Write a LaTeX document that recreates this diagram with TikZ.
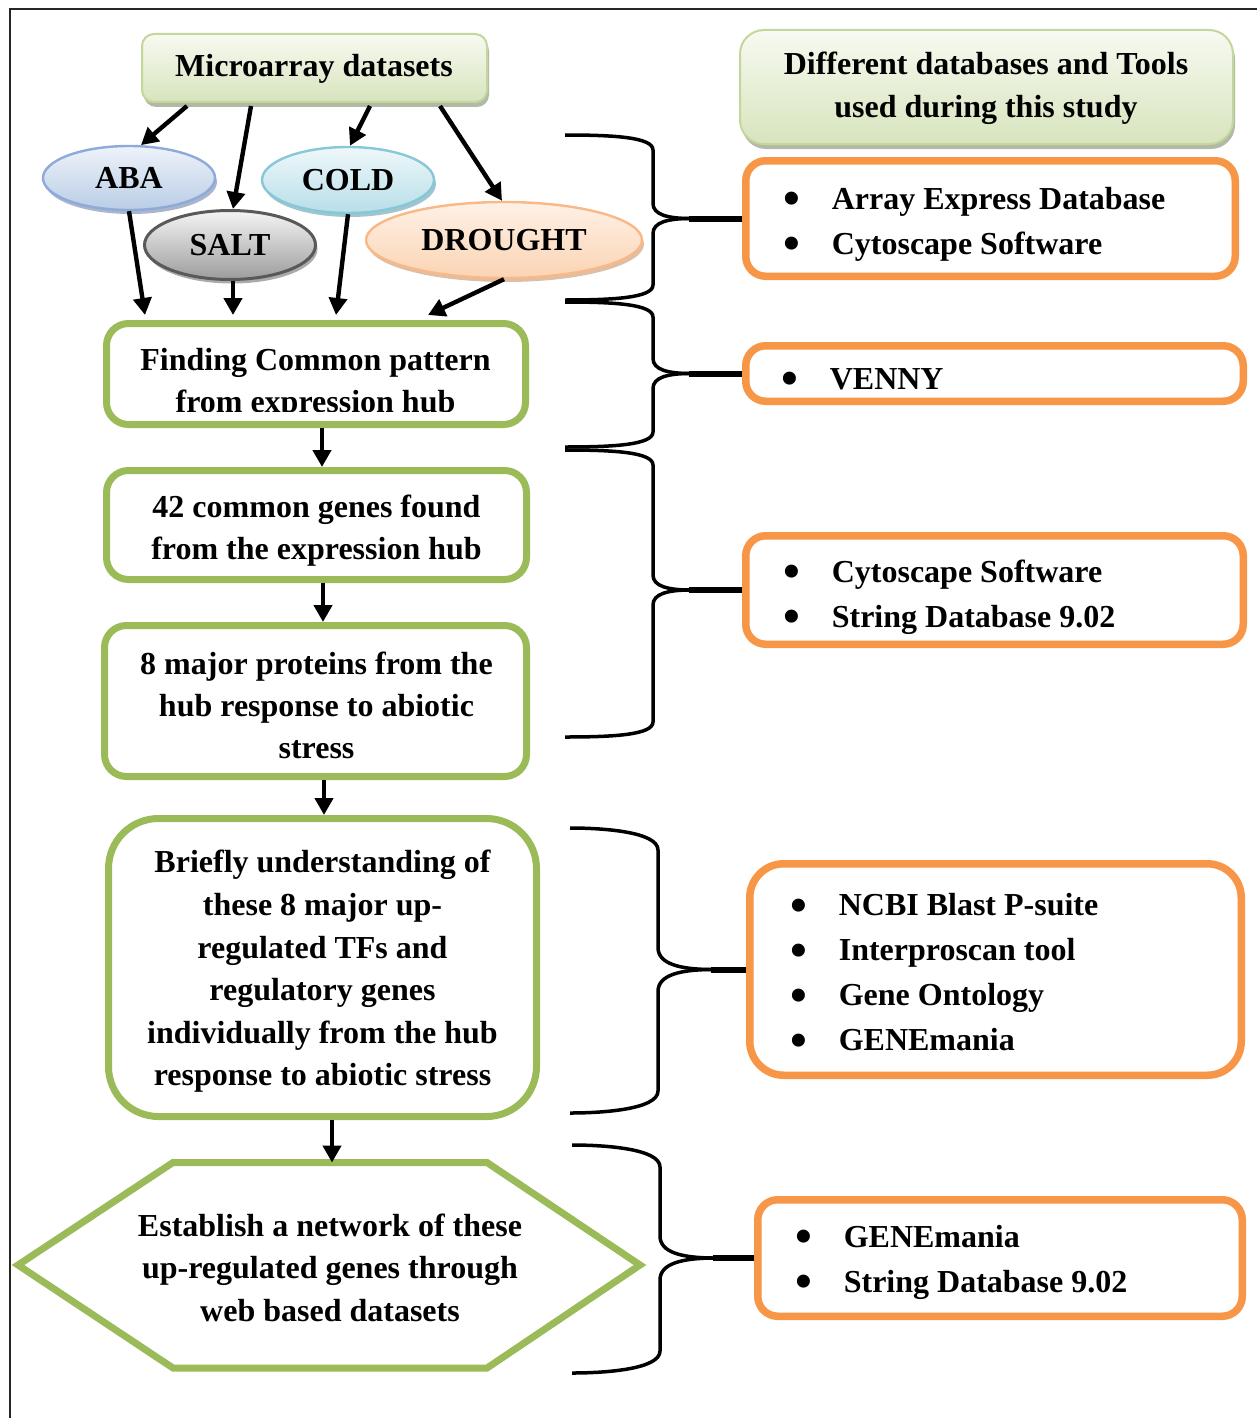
\documentclass[tikz,border=0pt]{standalone}
\usepackage{fontspec}
\setmainfont{Liberation Serif}
\usetikzlibrary{arrows.meta,shapes.geometric,shadows,calc}
\definecolor{grn}{HTML}{9BBB59}
\definecolor{org}{HTML}{F79646}
\definecolor{hdtop}{HTML}{F7FAF1}
\definecolor{hdbot}{HTML}{D7E4BD}
\definecolor{hdline}{HTML}{C3D69B}
\definecolor{hdsh}{HTML}{B4B9A6}
\definecolor{abatop}{HTML}{EEF3FA}
\definecolor{ababot}{HTML}{B9CDE5}
\definecolor{abaline}{HTML}{8EAADB}
\definecolor{abash}{HTML}{A9B6C9}
\definecolor{salttop}{HTML}{F5F5F5}
\definecolor{saltbot}{HTML}{9C9C9C}
\definecolor{saltline}{HTML}{595959}
\definecolor{saltsh}{HTML}{ABABAB}
\definecolor{coldtop}{HTML}{EFF8FA}
\definecolor{coldbot}{HTML}{B7DEE8}
\definecolor{coldline}{HTML}{86C7D8}
\definecolor{coldsh}{HTML}{A0C5CE}
\definecolor{drtop}{HTML}{FEF1E6}
\definecolor{drbot}{HTML}{FBD4B4}
\definecolor{drline}{HTML}{F9B887}
\definecolor{drsh}{HTML}{DDBFA5}
\newcommand{\blt}{\makebox[23pt][l]{\hspace{-1.2pt}\smash{\raisebox{-0.16em}{\scalebox{1.5}{\textbullet}}}}}
\newcommand{\curlybr}[7]{%
  \draw[brc] (#1,#2) .. controls ({#4-2.6*#7},#2) and (#4,{#2+0.15*#7}) .. (#4,{#2+#7})
    -- (#4,{#5-#7}) .. controls (#4,{#5-0.25*#7}) and ({#4+#7},#5) .. ({#4+2.5*#7},#5);
  \draw[brc] ({#4+2.5*#7},#5) .. controls ({#4+#7},#5) and (#4,{#5+0.25*#7}) .. (#4,{#5+#7})
    -- (#4,{#3-#7}) .. controls (#4,{#3-0.15*#7}) and ({#4-2.6*#7},#3) .. (#1,#3);
  \draw[brctip] ({#4+2.4*#7},#5) -- (#6.west);
}
\tikzset{
  txt/.style={font={\fontsize{16}{21}\selectfont\bfseries}, align=center, inner sep=0pt},
  lst/.style={font={\fontsize{16}{22.5}\selectfont\bfseries}, align=left, inner sep=0pt, anchor=west},
  head/.style={draw=hdline, line width=1pt, rounded corners=6pt, top color=hdtop, bottom color=hdbot,
    drop shadow={shadow xshift=1pt, shadow yshift=-2.5pt, fill=hdsh, opacity=1}, inner sep=0pt},
  gbox/.style={draw=grn, line width=3.5pt, rounded corners=11pt, fill=white, inner sep=0pt},
  obox/.style={draw=org, line width=3.75pt, rounded corners=10pt, fill=white, inner sep=0pt},
  ell/.style={ellipse, line width=1.2pt, inner sep=0pt, font={\fontsize{16}{21}\selectfont\bfseries}},
  arr/.style={line width=2.2pt, -{Triangle[length=8.5pt,width=9pt]}},
  brc/.style={line width=1.75pt},
  brctip/.style={line width=3pt},
}
\begin{document}
\begin{tikzpicture}[x=0.5pt,y=-0.5pt]
\useasboundingbox (0,0) rectangle (1257,1418);
\draw[line width=1pt, draw=black!85] (9.5,1418) -- (9.5,9.5) -- (1257,9.5);

% header boxes
\node[head, minimum width=172.5pt, minimum height=34pt] (micro) at (314.5,68) {};
\node[txt] (microtxt) at (314,69) {Microarray datasets};
\node[head, rounded corners=12pt, minimum width=246.5pt, minimum height=57pt] (tools) at (986.5,87) {};
\node[txt, font={\fontsize{16}{21.5}\selectfont\bfseries}] (toolstxt) at (986,88) {Different databases and Tools\\used during this study};

% ellipses
\node[ell, draw=abaline, top color=abatop, bottom color=ababot, minimum width=86pt, minimum height=32pt,
  drop shadow={shadow xshift=1pt, shadow yshift=-2pt, fill=abash, opacity=1}] (aba) at (129,178) {ABA};
\node[ell, draw=coldline, top color=coldtop, bottom color=coldbot, minimum width=86pt, minimum height=33pt,
  drop shadow={shadow xshift=1pt, shadow yshift=-2pt, fill=coldsh, opacity=1}] (cold) at (348,180) {COLD};
\node[ell, draw=saltline, line width=1.5pt, top color=salttop, bottom color=saltbot, minimum width=85.5pt, minimum height=34.5pt,
  drop shadow={shadow xshift=1pt, shadow yshift=-2pt, fill=saltsh, opacity=1}] (salt) at (230,245) {SALT};
\node[ell, draw=drline, top color=drtop, bottom color=drbot, minimum width=138pt, minimum height=38pt,
  drop shadow={shadow xshift=1pt, shadow yshift=-2pt, fill=drsh, opacity=1}] (drought) at (504,240) {DROUGHT};

% left flow boxes
\node[gbox, minimum width=209.5pt, minimum height=50.5pt] (finding) at (316,374) {};
\begin{scope}
\clip (103,320) rectangle (529,411);
\node[txt] (findtxt) at (315.5,383.5) {Finding Common pattern\\from expression hub};
\end{scope}
\node[gbox, minimum width=210pt, minimum height=54.5pt] (g42) at (316.5,525) {};
\node[txt] (g42txt) at (316.5,530.5) {42 common genes found\\from the expression hub};
\node[gbox, minimum width=211pt, minimum height=75.5pt] (g8) at (315.5,701) {};
\node[txt] (g8txt) at (316.5,705) {8 major proteins from the\\hub response to abiotic\\stress};
\node[gbox, rounded corners=25pt, minimum width=214pt, minimum height=149pt] (brief) at (322.5,967.5) {};
\node[txt, font={\fontsize{16}{21.3}\selectfont\bfseries}] (brieftxt) at (322.5,971.5) {Briefly understanding of\\these 8 major up-\\regulated TFs and\\regulatory genes\\individually from the hub\\response to abiotic stress};
\draw[draw=grn, line width=3.5pt, fill=white, line join=miter] (18,1265) -- (173,1162.5) -- (487,1162.5) -- (640,1265) -- (487,1368) -- (173,1368) -- cycle;
\coordinate (hextop) at (330,1162.5);
\node[txt, font={\fontsize{16}{21.25}\selectfont\bfseries}] (hex) at (330,1267.5) {Establish a network of these\\up-regulated genes through\\web based datasets};

% right tool boxes
\node[obox, minimum width=244.75pt, minimum height=57.75pt] (oa) at (990.5,218.5) {};
\node[lst] (la) at (785.4,224) {\blt Array Express Database\\\blt Cytoscape Software};
\node[obox, minimum width=248.75pt, minimum height=27.75pt] (ob) at (994.5,373.5) {};
\node[lst] (lb) at (783.4,379) {\blt VENNY};
\node[obox, minimum width=248.75pt, minimum height=54.25pt] (oc) at (994.5,590) {};
\node[lst] (lc) at (785.4,597.5) {\blt Cytoscape Software\\\blt String Database 9.02};
\node[obox, rounded corners=17pt, minimum width=245.75pt, minimum height=105.75pt] (od) at (995.5,969.5) {};
\node[lst] (ld) at (792.4,972.5) {\blt NCBI Blast P-suite\\\blt Interproscan tool\\\blt Gene Ontology\\\blt GENEmania};
\node[obox, minimum width=242.25pt, minimum height=58.25pt] (oe) at (1000,1258) {};
\node[lst] (le) at (797.4,1262.5) {\blt GENEmania\\\blt String Database 9.02};

% arrows
\draw[arr] ([xshift=-63.75pt,yshift=-1.5pt]micro.south) -- (aba.70);
\draw[arr] ([xshift=-31.75pt,yshift=-1.5pt]micro.south) -- ([xshift=1.5pt]salt.north);
\draw[arr] ([xshift=27.75pt,yshift=-1.5pt]micro.south) -- ([xshift=1pt]cold.north);
\draw[arr] ([xshift=62.75pt,yshift=-1.5pt]micro.south) -- ([xshift=-1pt]drought.north);
\draw[arr] (aba.south) -- ([xshift=-85.5pt,yshift=2.5pt]finding.north);
\draw[arr] ([xshift=1.5pt]salt.south) -- ([xshift=1.5pt,yshift=2.5pt]salt.south |- finding.north);
\draw[arr] (cold.south) -- ([xshift=10pt,yshift=2.5pt]finding.north);
\draw[arr] (drought.south) -- ([xshift=56pt,yshift=2.5pt]finding.north);
\draw[arr] ([xshift=3pt]finding.south) -- ([xshift=3pt]finding.south |- g42.north);
\draw[arr] ([xshift=3.25pt]g42.south) -- ([xshift=3.25pt]g42.south |- g8.north);
\draw[arr] ([xshift=4.25pt]g8.south) -- ([xshift=4.25pt]g8.south |- brief.north);
\draw[arr] ([xshift=4.75pt]brief.south) -- ([xshift=4.75pt]brief.south |- hextop);

% braces
\curlybr{565}{135}{300}{653}{218.5}{oa}{15}
\curlybr{565}{302}{447}{653}{373.5}{ob}{15}
\curlybr{565}{450}{737}{653}{590}{oc}{15}
\curlybr{570}{828}{1113}{658}{969.5}{od}{22}
\curlybr{572}{1145}{1373}{660}{1258}{oe}{22}
\end{tikzpicture}
\end{document}
